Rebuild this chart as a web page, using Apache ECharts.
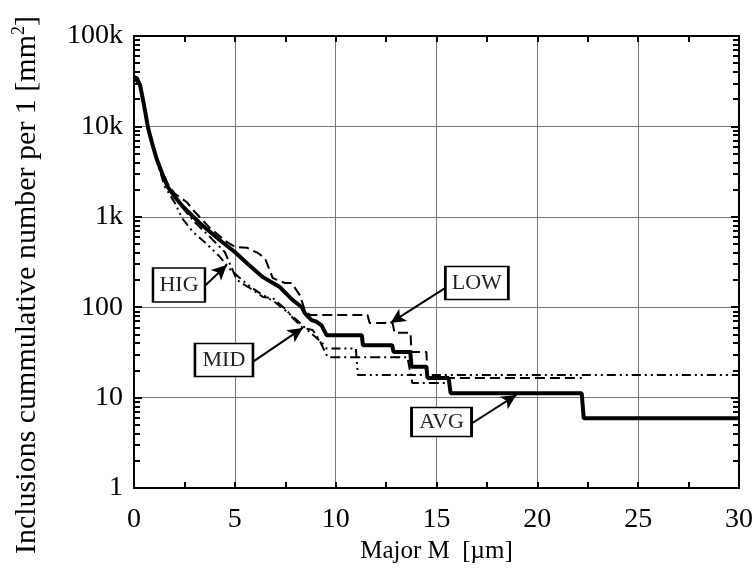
<!DOCTYPE html>
<html>
<head>
<meta charset="utf-8">
<script src="https://cdn.jsdelivr.net/npm/echarts@6/dist/echarts.min.js"></script>
<style>
  html, body { margin: 0; padding: 0; background: #fff; }
  #chart { width: 756px; height: 574px; }
</style>
</head>
<body>
<div id="chart"></div>
<script>
// x ticks and decade labels
const xTicks = [0, 5, 10, 15, 20, 25, 30]
const yDecades = [1, 10, 100, 1000, 10000, 100000]
const yDecadeLabels = ['1', '10', '100', '1k', '10k', '100k']
const yMinorTicks = [2, 3, 4, 5, 6, 7, 8, 9, 20, 30, 40, 50, 60, 70, 80, 90,
  200, 300, 400, 500, 600, 700, 800, 900, 2000, 3000, 4000, 5000, 6000, 7000, 8000, 9000,
  20000, 30000, 40000, 50000, 60000, 70000, 80000, 90000]

// AVG - solid thick
const avgData = [
  [0, 35000], [0.15, 34000], [0.3, 28700], [0.4, 22200], [0.54, 15200], [0.69, 9800],
  [0.89, 6600], [1.14, 4270], [1.39, 3040], [1.68, 2130], [2.03, 1660], [2.43, 1290],
  [3.27, 850], [4.26, 550], [5.0, 408], [5.59, 309], [6.39, 215], [7.23, 167],
  [7.87, 120], [8.32, 100], [8.47, 86], [8.8, 72], [9.06, 69], [9.3, 63], [9.55, 49],
  [11.3, 49], [11.35, 38], [12.8, 38], [12.87, 32], [13.7, 32], [13.76, 22], [14.5, 22],
  [14.55, 16.5], [15.6, 16.5], [15.7, 11.2], [22.2, 11.2], [22.3, 5.9], [30, 5.9]
]
// LOW - dashed
const lowData = [
  [0, 35000], [0.3, 29000], [0.54, 15500], [0.69, 10000], [0.89, 6700], [1.14, 4400],
  [1.39, 3200], [1.68, 2300], [2.03, 1800], [2.62, 1450], [3.02, 1130], [3.76, 755],
  [4.6, 527], [5.0, 465], [5.6, 455], [6.14, 398], [6.49, 350], [6.88, 210], [7.48, 185],
  [7.82, 185], [8.22, 136], [8.47, 93], [8.71, 82], [11.58, 82], [11.68, 67], [12.82, 67],
  [12.92, 52], [13.71, 52], [13.76, 32], [14.5, 32], [14.55, 16.5], [22.2, 16.5]
]
// MID - dash dot
const midData = [
  [0, 34500], [0.3, 29000], [0.54, 15000], [0.89, 6500], [1.14, 4200], [1.68, 2100],
  [2.43, 1250], [3.02, 870], [3.76, 600], [4.5, 408], [4.85, 270], [5.1, 200], [5.74, 163],
  [6.39, 130], [6.88, 126], [7.57, 93], [7.87, 76], [8.37, 59], [8.86, 56], [9.2, 43],
  [9.6, 28], [13.56, 28], [13.8, 14.5], [15.5, 14.5]
]
// HIG - dash dot dot
const higData = [
  [0, 34000], [0.3, 28000], [0.54, 14500], [0.69, 9300], [0.89, 6200], [1.14, 4100],
  [1.53, 2150], [2.03, 1420], [2.38, 970], [2.92, 680], [3.61, 500], [4.26, 360],
  [4.75, 265], [5.25, 210], [5.74, 170], [6.24, 143], [6.98, 114], [7.48, 93], [8.07, 72],
  [8.71, 53], [9.3, 41], [9.55, 35], [11.0, 35], [11.1, 17.8], [30, 17.8]
]

// label boxes: name, box centre, arrow start, arrow tip
const labelNames = ['HIG', 'MID', 'LOW', 'AVG']
const labelBoxes = [[2.23, 176], [4.46, 26], [17.0, 185], [15.25, 5.37]]
const arrowFrom = [[3.56, 176], [5.89, 24.8], [15.5, 167], [16.78, 5.24]]
const arrowTo = [[4.6, 293], [8.37, 59], [12.72, 67], [18.96, 10.7]]
const boxSizes = [[52, 34], [58, 33], [63, 33], [60, 29]]

const font = 'Liberation Serif, Times New Roman, serif'
const chart = echarts.init(document.getElementById('chart'))

function lineSeries(name, data, width, dash) {
  return {
    name: name,
    type: 'line',
    data: data,
    xAxisIndex: 0,
    yAxisIndex: 0,
    showSymbol: false,
    symbol: 'none',
    animation: false,
    lineStyle: { color: '#000', width: width, type: dash },
    z: 3
  }
}

const markLines = labelNames.map((n, i) => [
  { coord: arrowFrom[i] },
  { coord: arrowTo[i] }
])
const markPoints = labelNames.map((n, i) => ({
  name: n,
  coord: labelBoxes[i],
  symbolSize: boxSizes[i],
  value: n
}))

const option = {
  backgroundColor: '#fff',
  animation: false,
  grid: { left: 134, right: 16, top: 36, bottom: 86 },
  xAxis: [
    {
      type: 'value',
      min: 0,
      max: 30,
      interval: 5,
      position: 'bottom',
      name: 'Major M  [µm]',
      nameLocation: 'middle',
      nameGap: 48,
      nameTextStyle: { fontFamily: font, fontSize: 25, color: '#000' },
      axisLine: { show: true, lineStyle: { color: '#000', width: 2 } },
      axisTick: { show: true, inside: true, length: 6, lineStyle: { color: '#000', width: 2 } },
      minorTick: { show: true, splitNumber: 2, length: 6, lineStyle: { color: '#000', width: 2 } },
      splitLine: { show: true, lineStyle: { color: '#777', width: 1 } },
      axisLabel: { fontFamily: font, fontSize: 28, color: '#000', margin: 18,
        customValues: xTicks }
    },
    {
      type: 'value',
      min: 0,
      max: 30,
      interval: 5,
      position: 'top',
      axisLine: { show: true, lineStyle: { color: '#000', width: 2 } },
      axisTick: { show: true, inside: true, length: 6, lineStyle: { color: '#000', width: 2 } },
      minorTick: { show: true, splitNumber: 2, length: 6, lineStyle: { color: '#000', width: 2 } },
      splitLine: { show: false },
      axisLabel: { show: false }
    }
  ],
  yAxis: [
    {
      type: 'log',
      min: 1,
      max: 100000,
      position: 'left',
      name: 'Inclusions cummulative number per 1 [mm{sup|2}]',
      nameLocation: 'middle',
      nameGap: 90,
      nameRotate: 90,
      nameTextStyle: {
        fontFamily: font, fontSize: 30, color: '#000',
        padding: [0, 46, 0, 0],
        rich: { sup: { fontFamily: font, fontSize: 18, color: '#000', verticalAlign: 'top', padding: [0, 0, 16, 0] } }
      },
      axisLine: { show: true, lineStyle: { color: '#000', width: 2 } },
      axisTick: { show: true, inside: true, length: 8, lineStyle: { color: '#000', width: 2 } },
      splitLine: { show: true, lineStyle: { color: '#777', width: 1 } },
      axisLabel: {
        fontFamily: font, fontSize: 28, color: '#000', margin: 11,
        formatter: function(v) {
          const i = yDecades.indexOf(Math.round(v))
          return i >= 0 ? yDecadeLabels[i] : ''
        }
      }
    },
    {
      type: 'log',
      min: 1,
      max: 100000,
      position: 'left',
      axisLine: { show: false },
      axisTick: { show: true, inside: true, length: 6, customValues: yMinorTicks, lineStyle: { color: '#000', width: 2 } },
      splitLine: { show: false },
      axisLabel: { show: false }
    },
    {
      type: 'log',
      min: 1,
      max: 100000,
      position: 'right',
      axisLine: { show: true, lineStyle: { color: '#000', width: 2 } },
      axisTick: { show: true, inside: true, length: 8, lineStyle: { color: '#000', width: 2 } },
      splitLine: { show: false },
      axisLabel: { show: false }
    },
    {
      type: 'log',
      min: 1,
      max: 100000,
      position: 'right',
      axisLine: { show: false },
      axisTick: { show: true, inside: true, length: 6, customValues: yMinorTicks, lineStyle: { color: '#000', width: 2 } },
      splitLine: { show: false },
      axisLabel: { show: false }
    }
  ],
  series: [
    lineSeries('HIG', higData, 2, [9, 4, 2, 4, 2, 4]),
    lineSeries('MID', midData, 2, [10, 4, 2, 4]),
    lineSeries('LOW', lowData, 2, [10, 5]),
    lineSeries('AVG', avgData, 4, 'solid'),
    {
      name: 'labels',
      type: 'line',
      data: [],
      xAxisIndex: 0,
      yAxisIndex: 0,
      z: 10,
      silent: true,
      markLine: {
        silent: true,
        animation: false,
        symbol: ['none', 'arrow'],
        symbolSize: [11, 15],
        label: { show: false },
        lineStyle: { color: '#000', width: 2, type: 'solid' },
        data: markLines
      },
      markPoint: {
        silent: true,
        animation: false,
        symbol: 'rect',
        itemStyle: { color: '#fff', borderColor: '#000', borderWidth: 2 },
        label: {
          show: true,
          position: 'inside',
          fontFamily: font,
          fontSize: 22,
          color: '#222',
          formatter: '{b}'
        },
        data: markPoints
      }
    }
  ]
}
chart.setOption(option)
</script>
</body>
</html>
